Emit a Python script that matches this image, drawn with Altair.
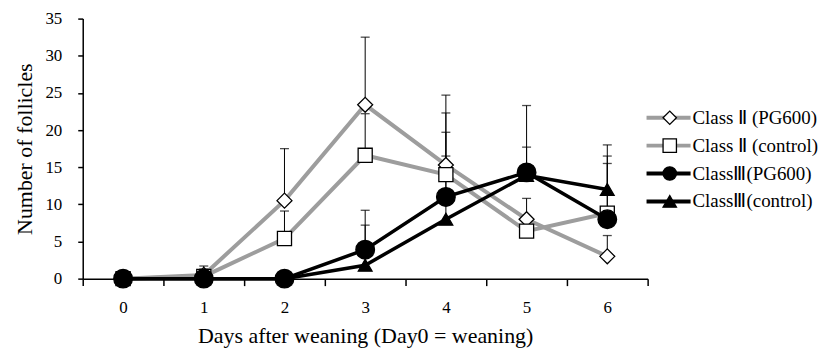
import altair as alt
import pandas as pd

days = [0, 1, 2, 3, 4, 5, 6]
series_names = ["Class Ⅱ (PG600)", "Class Ⅱ (control)", "ClassⅢ(PG600)", "ClassⅢ(control)"]

c2_pg_mean = [0, 0.5, 10.5, 23.4, 15.3, 8.0, 3.0]
c2_pg_upper = [0, 1.7, 17.5, 32.5, 24.7, 10.8, 5.8]
c2_ctl_mean = [0, 0.3, 5.4, 16.6, 14.0, 6.4, 8.8]
c2_ctl_upper = [0, 1.3, 9.1, 22.2, 22.3, 6.4, 15.5]
c3_pg_mean = [0, 0, 0, 3.9, 11.0, 14.3, 8.0]
c3_pg_upper = [0, 0, 0, 9.2, 19.7, 23.3, 16.5]
c3_ctl_mean = [0, 0, 0, 1.8, 8.0, 13.9, 12.0]
c3_ctl_upper = [0, 0, 0, 7.2, 16.5, 17.7, 18.0]

means = [c2_pg_mean, c2_ctl_mean, c3_pg_mean, c3_ctl_mean]
uppers = [c2_pg_upper, c2_ctl_upper, c3_pg_upper, c3_ctl_upper]
marker_names = [s + " " for s in series_names]

rows = []
for s, sb, m, u in zip(series_names, marker_names, means, uppers):
    for d, mv, uv in zip(days, m, u):
        rows.append({"day": d, "series": s, "series_b": sb, "mean": mv, "upper": uv})
df = pd.DataFrame(rows)

FONT = "Liberation Serif"
GRAY = "#9d9d9d"

x_axis = alt.Axis(title="Days after weaning (Day0 = weaning)", tickBand="extent",
                  labelAngle=0, labelFont=FONT, labelFontSize=17, labelPadding=14,
                  tickSize=7, tickColor="black", domainColor="black", domainWidth=1.5,
                  tickWidth=1.5, labelColor="black", titleFont=FONT, titleFontSize=22,
                  titleFontWeight="normal", titlePadding=10, titleColor="black")
x_enc = alt.X("day:O", bandPosition=0.5,
              scale=alt.Scale(type="band", paddingInner=0, paddingOuter=0, domain=days),
              axis=x_axis)
y_axis = alt.Axis(title="Number of follicles", values=[0, 5, 10, 15, 20, 25, 30, 35],
                  grid=False, labelFont=FONT, labelFontSize=17, labelPadding=16,
                  tickSize=5, tickColor="black", domainColor="black", domainWidth=1.5,
                  tickWidth=1.5, labelColor="black", titleFont=FONT, titleFontSize=22,
                  titleFontWeight="normal", titlePadding=8, titleColor="black")
y_scale = alt.Scale(domain=[0, 35], nice=False, zero=True)
y_enc = alt.Y("mean:Q", scale=y_scale, axis=y_axis)

base = alt.Chart(df)

color_scale = alt.Scale(domain=series_names, range=[GRAY, GRAY, "black", "black"])
legend_line = alt.Legend(title=None, orient="none", legendX=578.5, legendY=90,
                         symbolType="M-3.4,0L3.4,0", symbolSize=169, symbolStrokeWidth=4,
                         rowPadding=8, labelFont=FONT, labelFontSize=19, labelColor="black",
                         labelOffset=14.5, padding=0)
legend_mark = alt.Legend(title=None, orient="none", legendX=579.7, legendY=90, symbolSize=180,
                         symbolStrokeWidth=1.3,
                         rowPadding=8, labelFont=FONT, labelFontSize=19, labelExpr="''",
                         labelOffset=0, padding=0)

errs = base.transform_filter("datum.upper > datum.mean")
err_rule = errs.mark_rule(color="black", strokeWidth=1).encode(x=x_enc, y=y_enc, y2="upper:Q")
err_cap = errs.mark_tick(color="black", thickness=1.3, size=9).encode(
    x=x_enc, y=alt.Y("upper:Q", scale=y_scale, axis=y_axis))

line_c2 = base.transform_filter(alt.FieldOneOfPredicate(field="series", oneOf=series_names[:2])).mark_line(strokeWidth=4).encode(
    x=x_enc, y=y_enc, color=alt.Color("series:N", scale=color_scale, legend=legend_line), detail="series:N")
line_c3 = base.transform_filter(alt.FieldOneOfPredicate(field="series", oneOf=series_names[2:])).mark_line(strokeWidth=3.5).encode(
    x=x_enc, y=y_enc, color=alt.Color("series:N", scale=color_scale, legend=legend_line), detail="series:N")

shape_scale = alt.Scale(domain=marker_names, range=["diamond", "square", "circle", "triangle-up"])
fill_scale = alt.Scale(domain=marker_names, range=["white", "white", "black", "black"])
mstroke_scale = alt.Scale(domain=marker_names, range=["black", "black", "black", "black"])

def pts(name, size):
    return base.transform_filter(alt.datum.series == name).mark_point(
        filled=True, size=size, strokeWidth=1.3, opacity=1, fillOpacity=1, strokeOpacity=1).encode(
        x=x_enc, y=y_enc,
        shape=alt.Shape("series_b:N", scale=shape_scale, legend=legend_mark),
        fill=alt.Fill("series_b:N", scale=fill_scale, legend=legend_mark),
        stroke=alt.Stroke("series_b:N", scale=mstroke_scale, legend=legend_mark))

chart = alt.layer(
    err_rule, err_cap, line_c2, line_c3,
    pts(series_names[0], 225), pts(series_names[1], 200),
    pts(series_names[3], 190), pts(series_names[2], 350),
).properties(
    width=567, height=261,
    autosize=alt.AutoSizeParams(type="none"),
    padding={"left": 75, "top": 10, "right": 172, "bottom": 75},
    background="white",
).configure(font=FONT).configure_view(stroke=None).configure_legend(
    labelFont=FONT, labelColor="black"
).configure_axis(labelFont=FONT, titleFont=FONT)

chart.save("out.html", embed_options={"renderer": "svg", "actions": False})
